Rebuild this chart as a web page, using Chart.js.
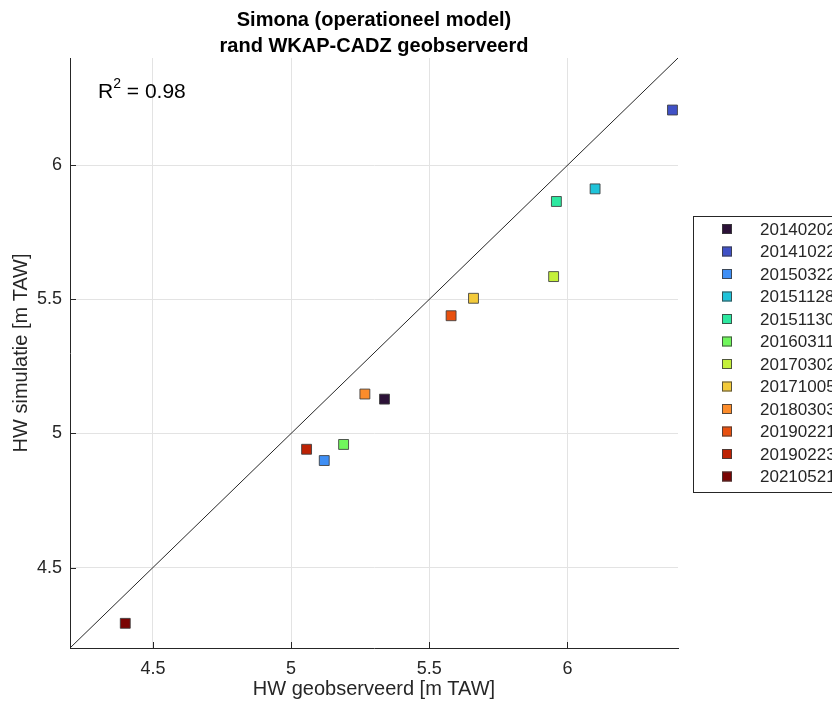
<!DOCTYPE html>
<html>
<head>
<meta charset="utf-8">
<script src="https://cdn.jsdelivr.net/npm/chart.js@4/dist/chart.umd.min.js"></script>
<style>
  html, body { margin: 0; padding: 0; background: #fff; overflow: hidden; }
  #wrap { width: 832px; height: 704px; position: relative; }
</style>
</head>
<body>
<div id="wrap"><canvas id="scatterChart" width="832" height="704"></canvas></div>
<script>
    // Données
    const dates = ['20140202', '20141022', '20150322', '20151128', '20151130', '20160311',
                   '20170302', '20171005', '20180303', '20190221', '20190223', '20210521'];
    const observed = [5.338, 6.38, 5.12, 6.10, 5.96, 5.19, 5.95, 5.66, 5.267, 5.579, 5.056, 4.40];
    const simulated = [5.128, 6.206, 4.899, 5.912, 5.865, 4.959, 5.585, 5.504, 5.147, 5.439, 4.941, 4.292];
    const colors = ['#2c1238', '#4051c6', '#3f8ff5', '#1fc3d9', '#2de8a0', '#70f65c',
                    '#c4f03a', '#f3ca3a', '#fc8c2b', '#e8500f', '#bd2204', '#7a0403'];
    const tickValues = [4.5, 5, 5.5, 6];
    const axisMin = 4.2;
    const axisMax = 6.4;
    const rSquared = '0.98';
    const titleLines = ['Simona (operationeel model)', 'rand WKAP-CADZ geobserveerd'];

    const FONT = '"Liberation Sans", Arial, Helvetica, sans-serif';
    const textColor = '#262626';

    // Un dataset par date
    const pointSets = dates.map((d, i) => ({
        type: 'scatter',
        label: d,
        data: [{ x: observed[i], y: simulated[i] }],
        backgroundColor: colors[i],
        borderColor: 'rgba(60,60,60,0.85)',
        borderWidth: 1,
        pointStyle: 'rect',
        pointRadius: 7,
        pointHoverRadius: 7,
        order: 1
    }));

    // Ligne 1:1
    const diagonal = {
        type: 'line',
        label: '1:1',
        data: [{ x: axisMin, y: axisMin }, { x: axisMax, y: axisMax }],
        borderColor: '#262626',
        borderWidth: 1,
        pointRadius: 0,
        fill: false,
        order: 2
    };

    // Titre, R², légende et petits traits de graduation vers l'intérieur
    const decorPlugin = {
        id: 'decor',
        afterDraw(chart) {
            const ctx = chart.ctx;
            const area = chart.chartArea;
            const xs = chart.scales.x, ys = chart.scales.y;
            ctx.save();

            // traits de graduation
            ctx.strokeStyle = textColor;
            ctx.lineWidth = 1;
            ctx.beginPath();
            tickValues.forEach(v => {
                const px = Math.round(xs.getPixelForValue(v)) + 0.5;
                ctx.moveTo(px, area.bottom);
                ctx.lineTo(px, area.bottom - 6);
                const py = Math.round(ys.getPixelForValue(v)) + 0.5;
                ctx.moveTo(area.left, py);
                ctx.lineTo(area.left + 6, py);
            });
            ctx.stroke();

            // titre
            const cx = (area.left + area.right) / 2;
            ctx.fillStyle = '#000';
            ctx.font = 'bold 20px ' + FONT;
            ctx.textAlign = 'center';
            ctx.textBaseline = 'middle';
            ctx.fillText(titleLines[0], cx, 20);
            ctx.fillText(titleLines[1], cx, 46);

            // R²
            ctx.textAlign = 'left';
            ctx.textBaseline = 'alphabetic';
            ctx.font = '21px ' + FONT;
            let tx = 98;
            ctx.fillText('R', tx, 98);
            tx += ctx.measureText('R').width;
            ctx.font = '14px ' + FONT;
            ctx.fillText('2', tx, 88);
            tx += ctx.measureText('2').width;
            ctx.font = '21px ' + FONT;
            ctx.fillText(' = ' + rSquared, tx, 98);

            // légende
            const lx = 693, ly = 216, rowH = 22.5;
            const lh = rowH * dates.length + 6;
            ctx.strokeStyle = '#262626';
            ctx.lineWidth = 1;
            ctx.fillStyle = '#fff';
            ctx.fillRect(lx + 0.5, ly + 0.5, 300, lh);
            ctx.strokeRect(lx + 0.5, ly + 0.5, 300, lh);
            ctx.font = '17px ' + FONT;
            ctx.textBaseline = 'middle';
            dates.forEach((d, i) => {
                const y = ly + 13 + i * rowH;
                ctx.fillStyle = colors[i];
                ctx.fillRect(722, y - 5, 10, 10);
                ctx.strokeStyle = 'rgba(60,60,60,0.85)';
                ctx.strokeRect(722.5, y - 4.5, 9, 9);
                ctx.fillStyle = textColor;
                ctx.fillText(d, 760, y + 1);
            });
            ctx.restore();
        }
    };

    const fmt = v => String(v);

    const ctx = document.getElementById('scatterChart').getContext('2d');
    new Chart(ctx, {
        data: { datasets: [diagonal, ...pointSets] },
        options: {
            responsive: false,
            animation: false,
            layout: { padding: { top: 58, right: 154, left: 0, bottom: 0 } },
            plugins: {
                legend: { display: false },
                title: { display: false },
                tooltip: { enabled: false }
            },
            scales: {
                x: {
                    type: 'linear',
                    min: axisMin,
                    max: axisMax,
                    afterBuildTicks: scale => { scale.ticks = tickValues.map(v => ({ value: v })); },
                    afterFit: scale => { scale.height = 56; },
                    grid: { color: '#e3e3e3', drawTicks: false },
                    border: { color: textColor, width: 1 },
                    ticks: { color: textColor, font: { family: FONT, size: 18 }, padding: 10, maxRotation: 0, callback: fmt },
                    title: {
                        display: true,
                        text: 'HW geobserveerd [m TAW]',
                        color: textColor,
                        font: { family: FONT, size: 20 },
                        padding: { top: 0, bottom: 3 }
                    }
                },
                y: {
                    type: 'linear',
                    min: axisMin,
                    max: axisMax,
                    afterBuildTicks: scale => { scale.ticks = tickValues.map(v => ({ value: v })); },
                    afterFit: scale => { scale.width = 70; },
                    grid: { color: '#e3e3e3', drawTicks: false },
                    border: { color: textColor, width: 1 },
                    ticks: { color: textColor, font: { family: FONT, size: 18 }, padding: 8, callback: fmt },
                    title: {
                        display: true,
                        text: 'HW simulatie [m TAW]',
                        color: textColor,
                        font: { family: FONT, size: 20 },
                        padding: { top: 9, bottom: 0 }
                    }
                }
            }
        },
        plugins: [decorPlugin]
    });
</script>
</body>
</html>
